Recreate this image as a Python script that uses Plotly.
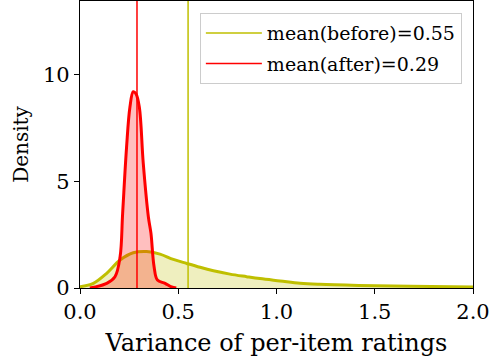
import plotly.graph_objects as go

# KDE of per-item rating variance, before
before_x = [0.0, 0.068, 0.136, 0.204, 0.271, 0.339, 0.407, 0.475, 0.543, 0.611, 0.679, 0.763,
            0.848, 0.916, 1.018, 1.12, 1.22, 1.42, 1.68, 2.0]
before_y = [0.06, 0.22, 0.69, 1.31, 1.65, 1.71, 1.59, 1.34, 1.15, 0.97, 0.81, 0.65,
            0.53, 0.44, 0.33, 0.22, 0.17, 0.12, 0.08, 0.05]
# KDE after
after_x = [0.05, 0.136, 0.178, 0.204, 0.217, 0.237, 0.254, 0.271, 0.285, 0.302, 0.322,
           0.348, 0.361, 0.377, 0.394, 0.433, 0.466, 0.49]
after_y = [0.0, 0.22, 0.53, 1.46, 3.5, 6.6, 8.47, 9.2, 9.1, 8.47, 5.84,
           3.33, 2.57, 1.0, 0.37, 0.22, 0.05, 0.0]
mean_before = 0.55
mean_after = 0.29
legend_labels = ["mean(before)=0.55", "mean(after)=0.29"]
x_ticks = [0.0, 0.5, 1.0, 1.5, 2.0]
x_ticklabels = ["0.0", "0.5", "1.0", "1.5", "2.0"]
y_ticks = [0, 5, 10]
y_max = 13.45

YEL = "#bfbf00"
RED = "#ff0000"
FONT = "DejaVu Serif"

fig = go.Figure()
fig.add_trace(go.Scatter(x=before_x, y=before_y, mode="lines", line=dict(color=YEL, width=3, shape="spline"),
                         fill="tozeroy", fillcolor="rgba(191,191,0,0.25)", showlegend=False, hoverinfo="skip"))
fig.add_trace(go.Scatter(x=after_x, y=after_y, mode="lines", line=dict(color=RED, width=3, shape="spline"),
                         fill="tozeroy", fillcolor="rgba(255,0,0,0.25)", showlegend=False, hoverinfo="skip"))
fig.add_trace(go.Scatter(x=[mean_before, mean_before], y=[0, y_max], mode="lines", legendgroup="a",
                         line=dict(color=YEL, width=1.5), name=legend_labels[0]))
fig.add_trace(go.Scatter(x=[mean_after, mean_after], y=[0, y_max], mode="lines", legendgroup="b",
                         line=dict(color=RED, width=1.5), name=legend_labels[1]))

axis_common = dict(showgrid=False, zeroline=False, showline=True, linecolor="black", linewidth=1.2,
                   mirror=True, ticks="outside", ticklen=5, tickwidth=1.2, tickcolor="black",
                   automargin=False,
                   tickfont=dict(family=FONT, size=21, color="black"))
fig.update_xaxes(range=[0, 2.0], tickvals=x_ticks, ticktext=x_ticklabels,
                 title=dict(text="Variance of per-item ratings", font=dict(family=FONT, size=24, color="black"), standoff=10),
                 **axis_common)
fig.update_yaxes(range=[0, y_max], tickvals=y_ticks,
                 title=dict(text="Density", font=dict(family=FONT, size=20, color="black"), standoff=8),
                 **axis_common)
fig.update_layout(
    width=490, height=362, margin=dict(l=80, r=17, t=1, b=74),
    plot_bgcolor="white", paper_bgcolor="white",
    legend=dict(x=0.305, y=0.958, xanchor="left", yanchor="top", bgcolor="rgba(255,255,255,0.8)",
                bordercolor="#cccccc", borderwidth=1, font=dict(family=FONT, size=19, color="black"),
                itemwidth=56, traceorder="grouped", tracegroupgap=3),
    font=dict(family=FONT),
)
fig.write_html("out.html", config={"displayModeBar": False},
               post_script="document.body.style.margin='0';document.body.style.overflow='hidden';")
